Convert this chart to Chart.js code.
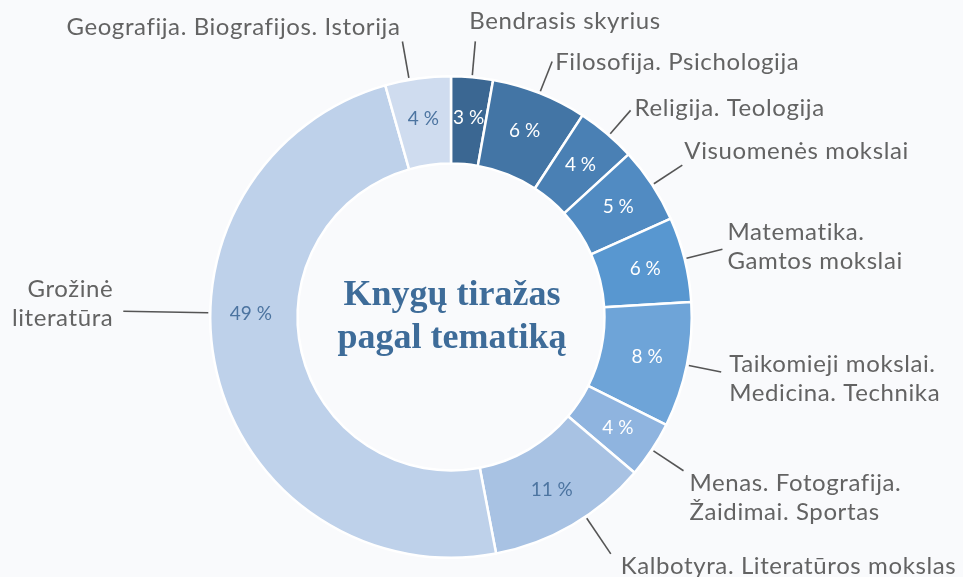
<!DOCTYPE html>
<html lang="lt">
<head>
<meta charset="utf-8">
<title>Knygų tiražas pagal tematiką</title>
<script src="https://cdn.jsdelivr.net/npm/chart.js@4.4.1/dist/chart.umd.min.js"></script>
<style>
    html, body { margin: 0; padding: 0; background: #f9fafc; }
    #wrap { position: relative; width: 963px; height: 577px; }
</style>
</head>
<body>
<div id="wrap"><canvas id="chart" width="963" height="577"></canvas></div>
<script>
// Duomenys (procentai, nuskaityti nuo paveikslo)
const categories = [
    "Bendrasis skyrius",
    "Filosofija. Psichologija",
    "Religija. Teologija",
    "Visuomenės mokslai",
    "Matematika.\nGamtos mokslai",
    "Taikomieji mokslai.\nMedicina. Technika",
    "Menas. Fotografija.\nŽaidimai. Sportas",
    "Kalbotyra. Literatūros mokslas",
    "Grožinė\nliteratūra",
    "Geografija. Biografijos. Istorija"
];
const shares = [2.8, 6.4, 4.0, 5.1, 5.7, 8.4, 3.8, 10.8, 48.6, 4.4];

// Spalvos
const sliceColors = ["#3b6792", "#4375a5", "#4a80b4", "#518bc2", "#5897d0",
                     "#6ea4d8", "#8fb4df", "#a8c2e3", "#bed1ea", "#cfdcef"];
const valueColors = ["#ffffff", "#ffffff", "#ffffff", "#ffffff", "#ffffff",
                     "#ffffff", "#ffffff", "#4c74a0", "#4c74a0", "#4c74a0"];

// Etikečių išdėstymas: linijos ilgis, teksto poslinkis, lygiuotė
const labelLayout = [
    { len: 34, dx: -6, dy: -12, align: "left" },
    { len: 32, dx: 3, dy: 8, align: "left" },
    { len: 31, dx: 4, dy: 6, align: "left", angle: 41 },
    { len: 34, dx: 2, dy: -6, align: "left" },
    { len: 37, dx: 5, dy: -9, align: "left", angle: 76 },
    { len: 33, dx: 8, dy: 0, align: "left" },
    { len: 36, dx: 6, dy: 20, align: "left" },
    { len: 43, dx: 10, dy: 20, align: "left", angle: 146 },
    { len: 85, dx: -10, dy: -14, align: "right", angle: 271 },
    { len: 37, dx: -2, dy: -7, align: "right", angle: 350 }
];

const LABEL_FONT = "24px Lato";
const LINE_HEIGHT = 29;

function angleFor(arc, i) {
    const lay = labelLayout[i];
    if (lay.angle !== undefined) return (lay.angle - 90) * Math.PI / 180;
    return (arc.startAngle + arc.endAngle) / 2;
}

function valueAngle(arc, i) {
    // suurimman siivun arvo on samalla suoralla kuin sen nuoli
    if (i === 8) return angleFor(arc, i);
    return (arc.startAngle + arc.endAngle) / 2;
}

// Oma plugin: arvot, nuorodos ja pavadinimo tekstas
const labelsPlugin = {
    id: "doughnutLabels",
    afterDatasetsDraw(chart) {
        const ctx = chart.ctx;
        const arcs = chart.getDatasetMeta(0).data;
        ctx.save();

        arcs.forEach((arc, i) => {
            // Arvo tekstas žiedo viduje
            const va = valueAngle(arc, i);
            const rMid = (arc.innerRadius + arc.outerRadius) / 2 + 3;
            ctx.font = "19px Lato";
            ctx.letterSpacing = "0px";
            ctx.fillStyle = valueColors[i];
            ctx.textAlign = "center";
            ctx.textBaseline = "middle";
            ctx.fillText(Math.round(shares[i]) + " %", arc.x + rMid * Math.cos(va), arc.y + rMid * Math.sin(va));

            // Nuorodos linija
            const a = angleFor(arc, i);
            const cos = Math.cos(a), sin = Math.sin(a);
            const lay = labelLayout[i];
            const r0 = arc.outerRadius + 2;
            const r1 = r0 + lay.len;
            const x0 = arc.x + r0 * cos, y0 = arc.y + r0 * sin;
            const x1 = arc.x + r1 * cos, y1 = arc.y + r1 * sin;
            ctx.strokeStyle = "#555555";
            ctx.lineWidth = 1.6;
            ctx.beginPath();
            ctx.moveTo(x0, y0);
            ctx.lineTo(x1, y1);
            ctx.stroke();

            // Kategorijos pavadinimas
            ctx.font = LABEL_FONT;
            ctx.letterSpacing = "0.6px";
            ctx.fillStyle = "#636363";
            ctx.textAlign = lay.align;
            ctx.textBaseline = "alphabetic";
            categories[i].split("\n").forEach((line, k) => {
                ctx.fillText(line, x1 + lay.dx, y1 + lay.dy + k * LINE_HEIGHT);
            });
        });

        // Pavadinimas centre
        const cx = arcs[0].x, cy = arcs[0].y;
        ctx.font = "bold 36px 'Liberation Serif'";
        ctx.letterSpacing = "0px";
        ctx.fillStyle = "#3e6c99";
        ctx.textAlign = "center";
        ctx.textBaseline = "alphabetic";
        ctx.fillText("Knygų tiražas", cx + 1, cy - 12);
        ctx.fillText("pagal tematiką", cx + 1, cy + 31);

        ctx.restore();
    }
};

new Chart(document.getElementById("chart"), {
    type: "doughnut",
    data: {
        labels: categories,
        datasets: [{
            data: shares,
            backgroundColor: sliceColors,
            borderColor: "#ffffff",
            borderWidth: 2.5
        }]
    },
    options: {
        responsive: false,
        animation: false,
        cutout: "63.75%",
        layout: { padding: { top: 75, bottom: 18, left: 0, right: 61 } },
        plugins: {
            legend: { display: false },
            tooltip: { enabled: false }
        }
    },
    plugins: [labelsPlugin]
});
</script>
</body>
</html>
